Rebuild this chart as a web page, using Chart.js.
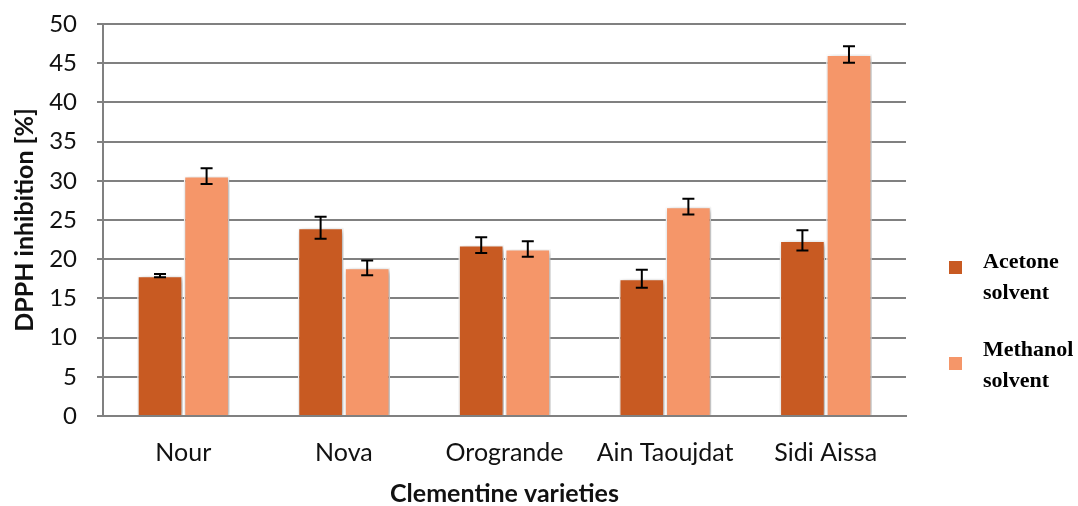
<!DOCTYPE html>
<html>
<head>
<meta charset="utf-8">
<script src="https://cdn.jsdelivr.net/npm/chart.js@4"></script>
<style>
  html, body { margin: 0; padding: 0; background: #fff; }
  #wrap { width: 1078px; height: 506px; }
</style>
</head>
<body>
<div id="wrap"><canvas id="barChart"></canvas></div>
<script>
const varieties = ['Nour', 'Nova', 'Orogrande', 'Ain Taoujdat', 'Sidi Aissa'];
const acetone = [17.9, 24.0, 21.8, 17.5, 22.4];
const acetoneErr = [0.2, 1.4, 1.0, 1.15, 1.3];
const methanol = [30.6, 18.9, 21.3, 26.7, 46.1];
const methanolErr = [1.0, 0.95, 1.0, 1.0, 1.05];
const yTicks = [0, 5, 10, 15, 20, 25, 30, 35, 40, 45, 50];

const errors = [acetoneErr, methanolErr];

// error bars drawn from the bar elements and the y scale
const errorBars = {
  id: 'errorBars',
  afterDatasetsDraw(chart) {
    const ctx = chart.ctx;
    const y = chart.scales.y;
    ctx.save();
    ctx.strokeStyle = '#000';
    ctx.lineWidth = 2;
    chart.data.datasets.forEach((ds, i) => {
      chart.getDatasetMeta(i).data.forEach((bar, j) => {
        const v = ds.data[j], e = errors[i][j];
        const top = y.getPixelForValue(v + e);
        const bot = y.getPixelForValue(v - e);
        ctx.beginPath();
        ctx.moveTo(bar.x, top); ctx.lineTo(bar.x, bot);
        ctx.moveTo(bar.x - 6, top); ctx.lineTo(bar.x + 6, top);
        ctx.moveTo(bar.x - 6, bot); ctx.lineTo(bar.x + 6, bot);
        ctx.stroke();
      });
    });
    ctx.restore();
  }
};

// soft shadow behind bars
const barShadow = {
  id: 'barShadow',
  beforeDatasetsDraw(chart) {
    const ctx = chart.ctx;
    ctx.save();
    ctx.shadowColor = 'rgba(0,0,0,0.35)';
    ctx.shadowBlur = 6;
    ctx.shadowOffsetX = 2;
    ctx.shadowOffsetY = 2;
  },
  afterDatasetsDraw(chart) {
    chart.ctx.restore();
  }
};

// legend on the right, two-line serif labels
const sideLegend = {
  id: 'sideLegend',
  afterDraw(chart) {
    const ctx = chart.ctx;
    const items = [
      { box: 267, lines: [262, 293], text: ['Acetone', 'solvent'] },
      { box: 363, lines: [350, 381], text: ['Methanol', 'solvent'] }
    ];
    ctx.save();
    ctx.font = 'bold 22px "Liberation Serif", serif';
    ctx.textBaseline = 'middle';
    items.forEach((it, i) => {
      ctx.fillStyle = chart.data.datasets[i].backgroundColor;
      ctx.fillRect(949, it.box - 6, 13, 13);
      ctx.fillStyle = '#000';
      ctx.fillText(it.text[0], 983, it.lines[0]);
      ctx.fillText(it.text[1], 983, it.lines[1]);
    });
    ctx.restore();
  }
};

new Chart(document.getElementById('barChart'), {
  type: 'bar',
  data: {
    labels: varieties,
    datasets: [
      {
        label: 'Acetone solvent',
        data: acetone,
        backgroundColor: '#C85A22',
        borderColor: '#ffffff',
        borderWidth: 1.5
      },
      {
        label: 'Methanol solvent',
        data: methanol,
        backgroundColor: '#F59669',
        borderColor: '#ffffff',
        borderWidth: 1.5
      }
    ]
  },
  options: {
    responsive: true,
    maintainAspectRatio: false,
    animation: false,
    layout: { padding: { top: 24, right: 172, left: 0, bottom: 0 } },
    categoryPercentage: 0.58,
    barPercentage: 0.98,
    plugins: {
      legend: { display: false },
      tooltip: { enabled: false }
    },
    scales: {
      x: {
        afterFit(scale) { scale.height = 90; },
        grid: { display: false },
        border: { color: '#808080', width: 2 },
        ticks: { color: '#111', font: { family: 'Lato', size: 25 }, padding: 14 },
        title: {
          display: true,
          text: 'Clementine varieties',
          color: '#111',
          font: { family: 'Lato', size: 25, weight: 'bold', lineHeight: 1 },
          padding: { top: 0, bottom: 0 }
        }
      },
      y: {
        min: 0,
        max: 50,
        afterBuildTicks(scale) {
          scale.ticks = yTicks.map(v => ({ value: v }));
        },
        afterFit(scale) {
          scale.width = 103;
          scale.paddingTop = 0;
          scale.paddingBottom = 0;
        },
        grid: { color: '#808080', lineWidth: 2, tickLength: 6 },
        border: { color: '#808080', width: 2 },
        ticks: { color: '#111', font: { family: 'Lato', size: 24 }, padding: 20 },
        title: {
          display: true,
          text: 'DPPH inhibition [%]',
          color: '#111',
          font: { family: 'Lato', size: 25, weight: 'bold', lineHeight: 1 },
          padding: { top: 12, bottom: 0 }
        }
      }
    }
  },
  plugins: [barShadow, errorBars, sideLegend]
});
</script>
</body>
</html>
